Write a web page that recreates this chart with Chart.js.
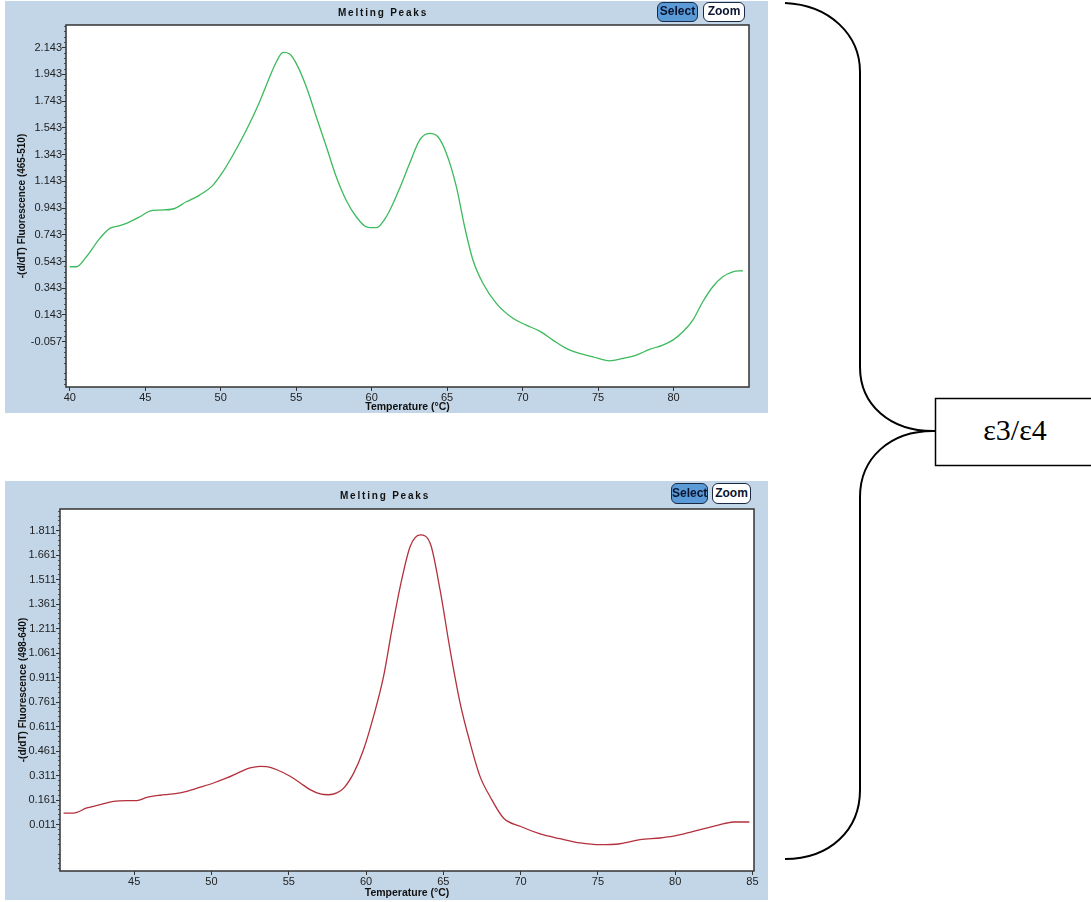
<!DOCTYPE html>
<html>
<head>
<meta charset="utf-8">
<script src="https://cdn.jsdelivr.net/npm/chart.js@4.4.1/dist/chart.umd.min.js"></script>
<style>
body { margin:0; background:#fff; width:1091px; height:902px; position:relative; overflow:hidden; font-family:"Liberation Sans", Arial, sans-serif; }
.panel { position:absolute; background:#c3d6e8; }
.panel canvas { position:absolute; left:0; top:0; }
.title { position:absolute; font-weight:bold; font-size:10px; line-height:12px; letter-spacing:1.8px; color:#111; transform:translateX(-50%); white-space:nowrap; }
.btn { position:absolute; font-weight:bold; font-size:12px; border:1.5px solid #1a2a44; border-radius:6px; box-sizing:border-box; text-align:center; color:#0a1430; }
.sel { background:#5a9ad6; }
.zm { background:#fff; }
#side { position:absolute; left:0; top:0; }
</style>
</head>
<body>

<div class="panel" style="left:5px;top:1px;width:763px;height:412px;">
  <canvas id="top" width="763" height="412"></canvas>
  <div class="title" style="left:378px;top:6px;">Melting Peaks</div>
  <div class="btn sel" style="left:652px;top:1px;width:41px;height:20px;line-height:17px;">Select</div>
  <div class="btn zm" style="left:698px;top:1px;width:42px;height:20px;line-height:17px;">Zoom</div>
</div>

<div class="panel" style="left:5px;top:481px;width:763px;height:419px;">
  <canvas id="bottom" width="763" height="419"></canvas>
  <div class="title" style="left:380px;top:9px;">Melting Peaks</div>
  <div class="btn sel" style="left:666px;top:2px;width:37px;height:21px;line-height:18px;">Select</div>
  <div class="btn zm" style="left:707px;top:2px;width:39px;height:21px;line-height:18px;">Zoom</div>
</div>

<svg id="side" width="1091" height="902">
  <path d="M785 3 C830 5 860 35 860 72 L860 367 C860 405 890 431 933 431 C890 431 860 458 860 497 L860 790 C860 830 830 859 785 859"
        fill="none" stroke="#000" stroke-width="2"/>
  <line x1="925" y1="431" x2="936" y2="431" stroke="#000" stroke-width="2"/>
  <rect x="935.5" y="398.5" width="170" height="67" fill="#fff" stroke="#000" stroke-width="1.5"/>
  <text x="1015" y="440" font-family="Liberation Serif, Times New Roman, serif" font-size="30" text-anchor="middle">ε3/ε4</text>
</svg>

<script>
// top panel: 465-510 channel
var topTemps = [40.0, 40.44, 41.1, 41.99, 42.65, 43.2, 43.75, 44.64, 45.3, 45.96, 46.84, 47.72, 48.6, 49.49,
  50.15, 50.81, 51.7, 52.58, 53.25, 53.69, 54.13, 54.57, 55.0, 55.67, 56.33, 57.0, 57.66, 58.32, 58.98,
  59.65, 60.31, 60.97, 61.85, 62.52, 63.18, 63.84, 64.39, 64.95, 65.61, 66.16, 66.71, 67.37, 68.26,
  69.36, 70.24, 71.13, 72.01, 72.89, 73.77, 74.66, 75.76, 76.65, 77.53, 78.41, 79.29, 79.95, 80.62,
  81.28, 81.94, 82.6, 83.26, 83.93, 84.59];
var topValues = [0.504, 0.504, 0.579, 0.716, 0.791, 0.808, 0.828, 0.878, 0.921, 0.928, 0.936, 0.990, 1.040, 1.115,
  1.215, 1.340, 1.527, 1.739, 1.926, 2.038, 2.108, 2.096, 2.026, 1.851, 1.627, 1.402, 1.175, 1.000, 0.878,
  0.803, 0.796, 0.878, 1.090, 1.278, 1.452, 1.502, 1.477, 1.353, 1.103, 0.803, 0.554, 0.380, 0.230,
  0.118, 0.067, 0.022, -0.045, -0.107, -0.145, -0.170, -0.200, -0.182, -0.157, -0.115, -0.082, -0.045, 0.017,
  0.105, 0.242, 0.354, 0.429, 0.466, 0.474];
var topXTicks = [40, 45, 50, 55, 60, 65, 70, 75, 80];
var topYTicks = [2.143, 1.943, 1.743, 1.543, 1.343, 1.143, 0.943, 0.743, 0.543, 0.343, 0.143, -0.057];

// bottom panel: 498-640 channel
var botTemps = [40.43, 41.07, 41.94, 42.80, 43.66, 44.53, 45.17, 45.82, 46.68, 47.54, 48.40, 49.27, 50.13,
  50.99, 51.86, 52.50, 53.15, 53.58, 54.23, 55.09, 55.74, 56.38, 57.03, 57.57, 58.11, 58.54, 59.19,
  59.83, 60.48, 61.13, 61.67, 62.21, 62.85, 63.50, 64.15, 64.79, 65.44, 66.09, 66.74, 67.38, 68.03,
  68.89, 69.97, 71.26, 72.55, 73.85, 75.14, 76.44, 77.73, 79.02, 79.88, 81.18, 82.47, 83.34, 83.77, 84.8];
var botValues = [0.082, 0.082, 0.113, 0.133, 0.154, 0.158, 0.158, 0.178, 0.191, 0.199, 0.215, 0.240, 0.266,
  0.297, 0.334, 0.358, 0.368, 0.366, 0.347, 0.307, 0.266, 0.225, 0.199, 0.194, 0.205, 0.233, 0.325,
  0.468, 0.672, 0.917, 1.203, 1.468, 1.713, 1.785, 1.734, 1.448, 1.080, 0.754, 0.509, 0.305, 0.182,
  0.052, 0.001, -0.046, -0.075, -0.101, -0.112, -0.106, -0.081, -0.071, -0.060, -0.030, 0.001, 0.021, 0.027, 0.027];
var botXTicks = [45, 50, 55, 60, 65, 70, 75, 80, 85];
var botYTicks = [1.811, 1.661, 1.511, 1.361, 1.211, 1.061, 0.911, 0.761, 0.611, 0.461, 0.311, 0.161, 0.011];

var FONT = '"Liberation Sans", Arial, sans-serif';

var plotFrame = {
  id: 'plotFrame',
  beforeDraw: function (chart) {
    var a = chart.chartArea, c = chart.ctx;
    c.save();
    c.fillStyle = '#fff';
    c.fillRect(a.left, a.top, a.right - a.left, a.bottom - a.top);
    c.restore();
  },
  afterDraw: function (chart) {
    var a = chart.chartArea, c = chart.ctx;
    c.save();
    c.strokeStyle = '#333';
    c.lineWidth = 1.5;
    c.strokeRect(a.left, a.top, a.right - a.left, a.bottom - a.top);
    c.restore();
  }
};

function minorTicks(major, min, max) {
  var step = (major[0] - major[1]) / 5;
  var base = major[major.length - 1];
  var out = [];
  for (var k = -20; k < 200; k++) {
    var v = base + k * step;
    if (v >= min && v <= max && k % 5 != 0) out.push({ value: v });
  }
  return out;
}

function makeChart(id, temps, values, color, xTicks, yTicks, xr, yr, yTitle, pad, yWidth, xHeight, xTitlePad) {
  var pts = [];
  for (var i = 0; i < temps.length; i++) pts.push({ x: temps[i], y: values[i] });
  return new Chart(document.getElementById(id), {
    type: 'line',
    data: { datasets: [{ data: pts, borderColor: color, borderWidth: 1.3, pointRadius: 0,
      cubicInterpolationMode: 'monotone', fill: false }] },
    options: {
      responsive: false, animation: false, devicePixelRatio: 1,
      layout: { padding: pad },
      plugins: { legend: { display: false }, tooltip: { enabled: false } },
      scales: {
        x: {
          type: 'linear', min: xr[0], max: xr[1],
          afterBuildTicks: function (s) { s.ticks = xTicks.map(function (v) { return { value: v }; }); },
          afterFit: function (s) { s.height = xHeight; },
          ticks: { font: { family: FONT, size: 11 }, color: '#222', padding: 0, maxRotation: 0, autoSkip: false,
            callback: function (v) { return String(v); } },
          grid: { drawOnChartArea: false, tickLength: 4, color: '#333' },
          border: { display: false },
          title: { display: true, text: 'Temperature (°C)', color: '#111', padding: { top: 0, bottom: xTitlePad },
            font: { family: FONT, size: 10.5, weight: 'bold', lineHeight: 1 } }
        },
        yMinor: {
          type: 'linear', position: 'left', min: yr[0], max: yr[1], weight: 0,
          afterBuildTicks: function (s) { s.ticks = minorTicks(yTicks, yr[0], yr[1]); },
          afterFit: function (s) { s.width = 0; },
          ticks: { display: false },
          grid: { drawOnChartArea: false, tickLength: 2, color: '#555' },
          border: { display: false }
        },
        y: {
          type: 'linear', position: 'left', min: yr[0], max: yr[1], weight: 1,
          afterBuildTicks: function (s) { s.ticks = yTicks.map(function (v) { return { value: v }; }); },
          afterFit: function (s) { s.width = yWidth; },
          ticks: { font: { family: FONT, size: 11 }, color: '#222', padding: 0, autoSkip: false,
            callback: function (v) { return v.toFixed(3); } },
          grid: { drawOnChartArea: false, tickLength: 4, color: '#333' },
          border: { display: false },
          title: { display: true, text: yTitle, color: '#111', padding: { top: 0, bottom: 0 },
            font: { family: FONT, size: 10, weight: 'bold' } }
        }
      }
    },
    plugins: [plotFrame]
  });
}

makeChart('top', topTemps, topValues, '#3cba5c', topXTicks, topYTicks, [39.75, 85], [-0.396, 2.313],
  '-(d/dT) Fluorescence (465-510)', { left: 11, top: 24, right: 19, bottom: 0 }, 50, 26, 0.5);
makeChart('bottom', botTemps, botValues, '#b3303c', botXTicks, botYTicks, [40.2, 85.1], [-0.273, 1.944],
  '-(d/dT) Fluorescence (498-640)', { left: 12, top: 28, right: 14, bottom: 0 }, 43, 29, 1.5);
</script>
</body>
</html>
